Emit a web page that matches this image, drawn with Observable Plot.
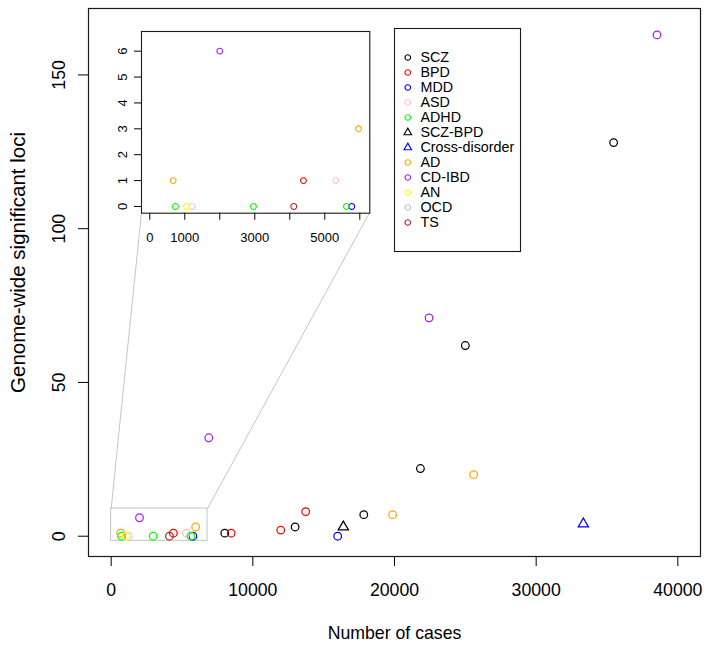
<!DOCTYPE html>
<html><head><meta charset="utf-8">
<script src="https://cdn.jsdelivr.net/npm/d3@7"></script>
<script src="https://cdn.jsdelivr.net/npm/@observablehq/plot@0.6"></script>
<style>
html,body{margin:0;padding:0;background:#fff;}
#wrap{position:relative;width:709px;height:645px;overflow:hidden;}
#wrap svg{position:absolute;overflow:visible;}
</style></head><body><div id="wrap"></div>
<script>
// ---- data ----
const disorders = ["SCZ","BPD","MDD","ASD","ADHD","SCZ-BPD","Cross-disorder","AD","CD-IBD","AN","OCD","TS"];
const disorderColors = ["#000000","#FF0000","#0000FF","#FFC0CB","#00FF00","#000000","#0000FF","#FFA500","#A020F0","#FFFF00","#BEBEBE","#A52A2A"];
const disorderSymbols = ["circle","circle","circle","circle","circle","triangle","triangle","circle","circle","circle","circle","circle"];

const studyDisorder = ["SCZ","SCZ","SCZ","SCZ","SCZ","SCZ",
  "BPD","BPD","BPD","BPD",
  "MDD","MDD",
  "ASD","ASD",
  "ADHD","ADHD","ADHD",
  "SCZ-BPD","Cross-disorder",
  "AD","AD","AD","AD",
  "CD-IBD","CD-IBD","CD-IBD","CD-IBD",
  "AN","TS"];
const studyCases = [8020,12985,17830,21830,25000,35470,
  4390,8470,11970,13730,
  5771,15990,
  1210,5314,
  733,2962,5619,
  16390,33330,
  667,5962,19870,25590,
  2000,6890,22440,38530,
  1048,4114];
const studyLoci = [1,3,7,22,62,128,
  1,1,2,8,
  0,0,
  0,1,
  0,0,0,
  3,4,
  1,3,7,20,
  6,32,71,163,
  0,0];

const xTicks = [0,10000,20000,30000,40000];
const yTicks = [0,50,100,150];
const insetXTicks = [0,1000,2000,3000,4000,5000,6000];
const insetXTickLabels = ["0","1000","","3000","","5000",""];
const insetYTicks = [0,1,2,3,4,5,6];

const xLabel = "Number of cases";
const yLabel = "Genome-wide significant loci";

// zoom box (data units of main plot) and inset corner anchors
const zoomBoxX = [0, 6800];
const zoomBoxY = [-1.5, 9];
const insetCornerX = [2140, 18250];
const insetCornerY = 105.3;

// ---- build ----
const studies = studyDisorder.map((d, i) => {
  const k = disorders.indexOf(d);
  return {disorder: d, cases: studyCases[i], loci: studyLoci[i], color: disorderColors[k], symbol: disorderSymbols[k]};
});
const legendData = disorders.map((d, i) => ({label: d, color: disorderColors[i], symbol: disorderSymbols[i]}));
const font = "'Liberation Sans', Arial, Helvetica, sans-serif";
const wrap = document.getElementById("wrap");

const main = Plot.plot({
  width: 709, height: 645,
  marginLeft: 88, marginRight: 9, marginTop: 8, marginBottom: 89,
  x: {domain: [-1600, 41600]},
  y: {domain: [-6.6, 171.6]},
  style: {fontFamily: font, fontSize: "17.7px", background: "transparent", color: "#000"},
  marks: [
    Plot.axisX({ticks: xTicks, tickSize: 10, tickPadding: 16.5, tickFormat: d => String(d), label: null, fontSize: 17.7}),
    Plot.axisY({ticks: yTicks, tickSize: 10, tickPadding: 13.5, tickRotate: -90, tickFormat: d => String(d), label: null, fontSize: 17.7}),
    Plot.text([xLabel], {text: d => d, frameAnchor: "bottom", dy: 77, fontSize: 17.7, lineAnchor: "middle"}),
    Plot.text([yLabel], {text: d => d, frameAnchor: "left", dx: -70, dy: -20, rotate: -90, fontSize: 20.5, lineAnchor: "middle", textAnchor: "middle"}),
    Plot.rect([0], {x1: () => zoomBoxX[0], x2: () => zoomBoxX[1], y1: () => zoomBoxY[0], y2: () => zoomBoxY[1], fill: "none", stroke: "#BEBEBE", strokeWidth: 0.9}),
    Plot.link([0, 1], {x1: i => zoomBoxX[i], y1: () => zoomBoxY[1], x2: i => insetCornerX[i], y2: () => insetCornerY, stroke: "#BEBEBE", strokeWidth: 0.9}),
    Plot.dot(studies, {x: "cases", y: "loci", stroke: "color", symbol: "symbol", r: 3.8, strokeWidth: 1.25}),
    Plot.frame({stroke: "#1a1a1a", strokeWidth: 1.2})
  ]
});
main.style.left = "0px"; main.style.top = "0px";
wrap.appendChild(main);

const insetStudies = studies.filter(s => s.cases < 6286 && s.loci <= 6.76);
const inset = Plot.plot({
  width: 280, height: 235,
  marginLeft: 41, marginRight: 10.7, marginTop: 11, marginBottom: 42.3,
  x: {domain: [-237, 6286]},
  y: {domain: [-0.26, 6.76]},
  style: {fontFamily: font, fontSize: "13px", background: "transparent", color: "#000"},
  marks: [
    Plot.axisX({ticks: insetXTicks, tickSize: 7, tickPadding: 12.3, tickFormat: d => insetXTickLabels[insetXTicks.indexOf(d)], label: null, fontSize: 13}),
    Plot.axisY({ticks: insetYTicks, tickSize: 7, tickPadding: 7.6, tickRotate: -90, tickFormat: d => String(d), label: null, fontSize: 13}),
    Plot.dot(insetStudies, {x: "cases", y: "loci", stroke: "color", symbol: "symbol", r: 2.9, strokeWidth: 1.1}),
    Plot.frame({stroke: "#1a1a1a", strokeWidth: 1.1})
  ]
});
inset.style.left = "100px"; inset.style.top = "20px";
wrap.appendChild(inset);

const legend = Plot.plot({
  width: 128, height: 225,
  marginLeft: 1, marginRight: 1, marginTop: 1, marginBottom: 1,
  x: {domain: [0, 1], axis: null},
  y: {type: "point", domain: disorders, range: [18.7, 205.3], axis: null},
  style: {fontFamily: font, fontSize: "14.3px", background: "transparent", color: "#000"},
  marks: [
    Plot.frame({stroke: "#1a1a1a", strokeWidth: 1.1}),
    Plot.dot(legendData, {y: "label", frameAnchor: "left", dx: 13.3, stroke: "color", symbol: "symbol", r: 2.8, strokeWidth: 1.1}),
    Plot.text(legendData, {y: "label", text: "label", frameAnchor: "left", dx: 26, textAnchor: "start", lineAnchor: "middle", fontSize: 14.3, fill: "#000"})
  ]
});
legend.style.left = "393px"; legend.style.top = "27px";
wrap.appendChild(legend);
</script>
</body></html>
